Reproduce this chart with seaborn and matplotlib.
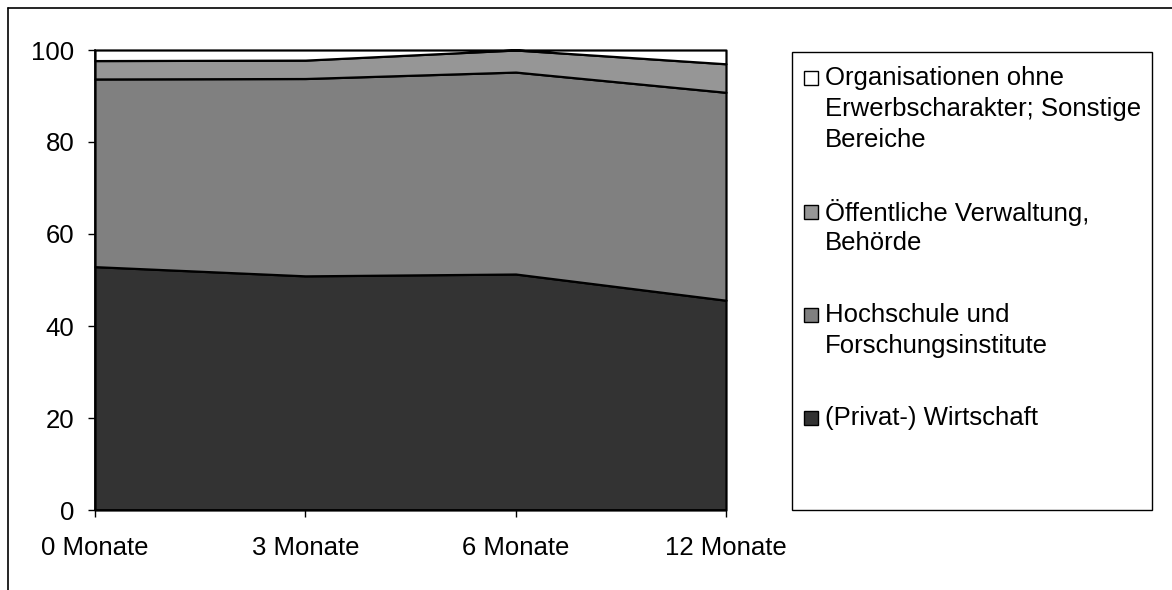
import numpy as np
import pandas as pd
import matplotlib
matplotlib.use("Agg")
import matplotlib.pyplot as plt
from matplotlib.patches import Rectangle
from matplotlib.lines import Line2D
import seaborn as sns

# ==========================================
# Data (shares in %)
# ==========================================

zeitpunkte = ["0 Monate", "3 Monate", "6 Monate", "12 Monate"]
privatwirtschaft = [52.9, 50.9, 51.3, 45.6]
hochschule = [40.8, 42.9, 43.9, 45.2]
verwaltung = [4.0, 4.0, 4.8, 6.2]
organisationen = [2.3, 2.2, 0.0, 3.0]

bereiche = [
    "(Privat-) Wirtschaft",
    "Hochschule und\nForschungsinstitute",
    "Öffentliche Verwaltung,\nBehörde",
    "Organisationen ohne\nErwerbscharakter; Sonstige\nBereiche",
]
farben = ["#333333", "#808080", "#969696", "#ffffff"]

df = pd.DataFrame({
    "Zeitpunkt": zeitpunkte,
    bereiche[0]: privatwirtschaft,
    bereiche[1]: hochschule,
    bereiche[2]: verwaltung,
    bereiche[3]: organisationen,
})

# ==========================================
# Style
# ==========================================

sns.set_theme(style="white")
plt.rcParams["font.family"] = ["Liberation Sans", "DejaVu Sans"]
FS = 18.5

W, H = 1172, 590
fig = plt.figure(figsize=(W / 100, H / 100), dpi=100)
ax = fig.add_axes([95 / W, 1 - 510 / H, (726 - 95) / W, 460 / H])

# ==========================================
# Stacked area chart
# ==========================================

x = np.arange(len(df))
polys = ax.stackplot(
    x,
    *[df[b] for b in bereiche],
    colors=farben,
    edgecolor="black",
    linewidth=1.6,
)
for p in polys:
    p.set_clip_on(False)

ax.set_xlim(0, len(df) - 1)
ax.set_ylim(0, 100)
ax.set_xticks(x)
ax.set_xticklabels(df["Zeitpunkt"])
ax.set_yticks(np.arange(0, 101, 20))

ax.tick_params(bottom=True, left=True, direction="out", length=5, width=1,
               colors="black", labelsize=FS)
ax.tick_params(axis="x", pad=14)
ax.tick_params(axis="y", pad=10)

for side in ["top", "right"]:
    ax.spines[side].set_visible(False)
for side in ["left", "bottom"]:
    ax.spines[side].set_color("black")
    ax.spines[side].set_linewidth(1.2)
ax.set_facecolor("white")
ax.grid(False)

# ==========================================
# Legend (box on the right, marker at first line)
# ==========================================

def fx(px):
    return px / W

def fy(py):
    return 1 - py / H

fig.add_artist(Rectangle((fx(792), fy(510)), fx(1152) - fx(792), fy(52) - fy(510),
                         transform=fig.transFigure, fill=False,
                         edgecolor="black", linewidth=1.0))

line_h = 31
gap = 41
y_line = 78
for label, farbe in zip(bereiche[::-1], farben[::-1]):
    zeilen = label.split("\n")
    fig.add_artist(Rectangle((fx(804), fy(y_line + 7)), fx(14), 14 / H,
                             transform=fig.transFigure, facecolor=farbe,
                             edgecolor="black", linewidth=1.0))
    for i, zeile in enumerate(zeilen):
        fig.text(fx(825), fy(y_line + i * line_h), zeile, fontsize=FS,
                 va="center", ha="left", color="black")
    y_line += len(zeilen) * line_h + gap

# outer chart frame (left and top edge visible)
fig.add_artist(Line2D([fx(8), fx(8)], [0, fy(8)], transform=fig.transFigure,
                      color="black", linewidth=1.2))
fig.add_artist(Line2D([fx(8), 1], [fy(8), fy(8)], transform=fig.transFigure,
                      color="black", linewidth=1.2))

fig.savefig("out.png", dpi=100, facecolor="white")
